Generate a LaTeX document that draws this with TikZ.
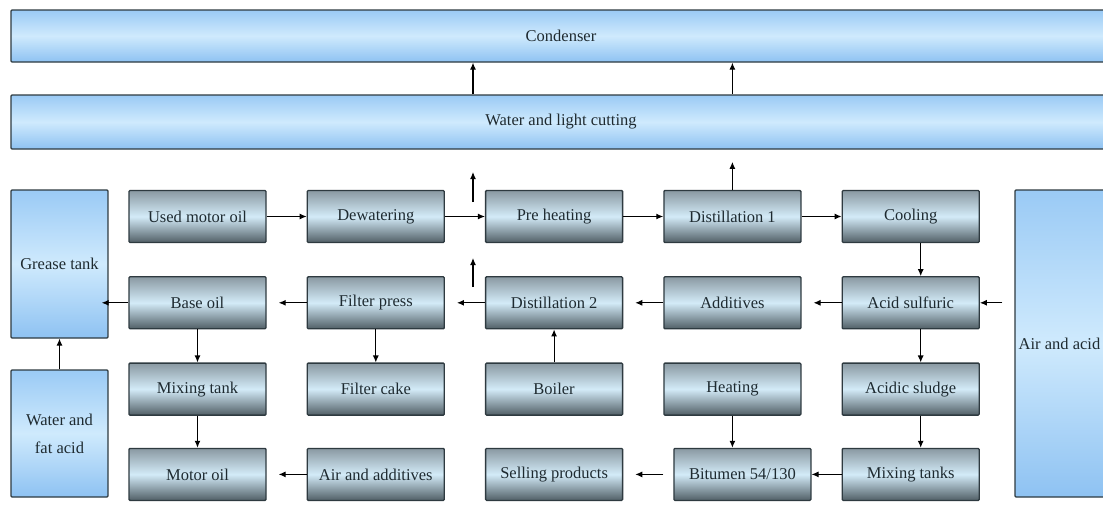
\documentclass[tikz,border=0pt]{standalone}
\usepackage{fontspec}
\setmainfont{Liberation Serif}
\usetikzlibrary{arrows.meta,positioning}
\definecolor{edge}{HTML}{2E3A40}
\definecolor{ink}{HTML}{1E2A30}
\definecolor{gtop}{HTML}{8A99A2}
\definecolor{gmid}{HTML}{D3EBF8}
\definecolor{gbot}{HTML}{515F66}
\definecolor{btop}{HTML}{9ACAF5}
\definecolor{bmid}{HTML}{CFEAFD}
\definecolor{bbot}{HTML}{8EC2F2}
\newcommand\boxfont{\fontsize{16.5}{28}\selectfont}

\begin{document}
\begin{tikzpicture}[x=1pt, y=-1pt, node distance=33pt and 40pt, >={Latex[length=7pt,width=6pt]}]
	\tikzset{gbox/.style={draw=edge, line width=1.3pt, rounded corners=1pt, top color=gtop, bottom color=gbot, middle color=gmid, minimum width=137pt, minimum height=52pt, inner sep=0pt, font=\boxfont, text=ink},
		bbox/.style={gbox, top color=btop, bottom color=bbot, middle color=bmid, align=center},
		flow/.style={->, line width=1.1pt, black},
		gap/.style={shorten >=12pt}
	}
	\useasboundingbox (0,0) rectangle (1103,514);
	\clip (0,0) rectangle (1103,514);

	% blue bars and tanks
	\node[bbox, minimum width=1100pt, minimum height=52pt] (condenser) at (561,36) {Condenser};
	\node[bbox, minimum width=1100pt, minimum height=54pt] (water) at (561,122) {Water and light cutting};
	\node[bbox, minimum width=97pt, minimum height=148pt] (grease) at (59.5,264) {Grease tank};
	\node[bbox, minimum width=96pt, minimum height=307pt] (airacid) at (1063,343.5) {Air and acid\hspace*{7pt}};
	\node[bbox, minimum width=97pt, minimum height=127pt] (waterfat) at (59.5,433.5) {Water and\\fat acid};

	% process boxes
	\node[gbox] (used) at (197.5,216.5) {Used motor oil};
	\node[gbox, right=of used] (dewater) {Dewatering};
	\node[gbox, right=of dewater] (preheat) {Pre heating};
	\node[gbox, right=of preheat] (dist1) {Distillation 1};
	\node[gbox, right=of dist1] (cool) {Cooling};

	\node[gbox, below=of used] (base) {Base oil};
	\node[gbox, below=of dewater] (fpress) {Filter press};
	\node[gbox, below=of preheat] (dist2) {Distillation 2};
	\node[gbox, below=of dist1] (addit) {Additives};
	\node[gbox, below=of cool] (acid) {Acid sulfuric};

	\node[gbox, below=of base] (mixtank) {Mixing tank};
	\node[gbox, below=of fpress] (fcake) {Filter cake};
	\node[gbox, below=of dist2] (boiler) {Boiler};
	\node[gbox, below=of addit] (heat) {Heating};
	\node[gbox, below=of acid] (sludge) {Acidic sludge};

	\node[gbox, below=32pt of mixtank] (motor) {Motor oil};
	\node[gbox, below=32pt of fcake] (airadd) {Air and additives};
	\node[gbox, below=32pt of boiler] (sell) {Selling products};
	\node[gbox, below=32pt of heat, xshift=10pt] (bitumen) {Bitumen 54/130};
	\node[gbox, below=32pt of sludge] (mixtanks) {Mixing tanks};

	% vapour outlets
	\coordinate (vap1a) at (473,202);
	\coordinate (vap1b) at (473,172);
	\coordinate (vap2a) at (473,287);
	\coordinate (vap2b) at (473,258);
	\coordinate (vap3) at ([yshift=28pt]dist1.north);

	\draw[flow] (vap1a) -- (vap1b);
	\draw[flow] (vap2a) -- (vap2b);
	\draw[flow] (dist1.north) -- (vap3);
	\draw[flow] (water.north -| vap1a) -- (condenser.south -| vap1a);
	\draw[flow] (water.north -| vap3) -- (condenser.south -| vap3);

	% main line
	\draw[flow] (used) -- (dewater);
	\draw[flow] (dewater) -- (preheat);
	\draw[flow] (preheat) -- (dist1);
	\draw[flow] (dist1) -- (cool);
	\draw[flow] ([xshift=10pt]cool.south) -- ([xshift=10pt]acid.north);
	\draw[flow] ([xshift=10pt]acid.south) -- ([xshift=10pt]sludge.north);
	\draw[flow] ([xshift=10pt]sludge.south) -- ([xshift=10pt]mixtanks.north);
	\draw[flow, shorten <=12pt] (airacid.west |- acid) -- (acid.east);
	\draw[flow, gap] (acid) -- (addit);
	\draw[flow, gap] (addit) -- (dist2);
	\draw[flow, gap] (dist2) -- (fpress);
	\draw[flow, gap] (fpress) -- (base);
	\draw[flow, shorten >=-7pt] (base.west) -- (base.west -| grease.east);
	\draw[flow] (waterfat) -- (grease);
	\draw[flow] (base) -- (mixtank);
	\draw[flow] (mixtank) -- (motor);
	\draw[flow] (fpress) -- (fcake);
	\draw[flow] (boiler) -- (dist2);
	\draw[flow] (heat.south) -- (heat.south |- bitumen.north);
	\draw[flow] (mixtanks) -- (bitumen);
	\draw[flow, gap, shorten <=10pt] (bitumen) -- (sell);
	\draw[flow, gap] (airadd) -- (motor);
\end{tikzpicture}
\end{document}
